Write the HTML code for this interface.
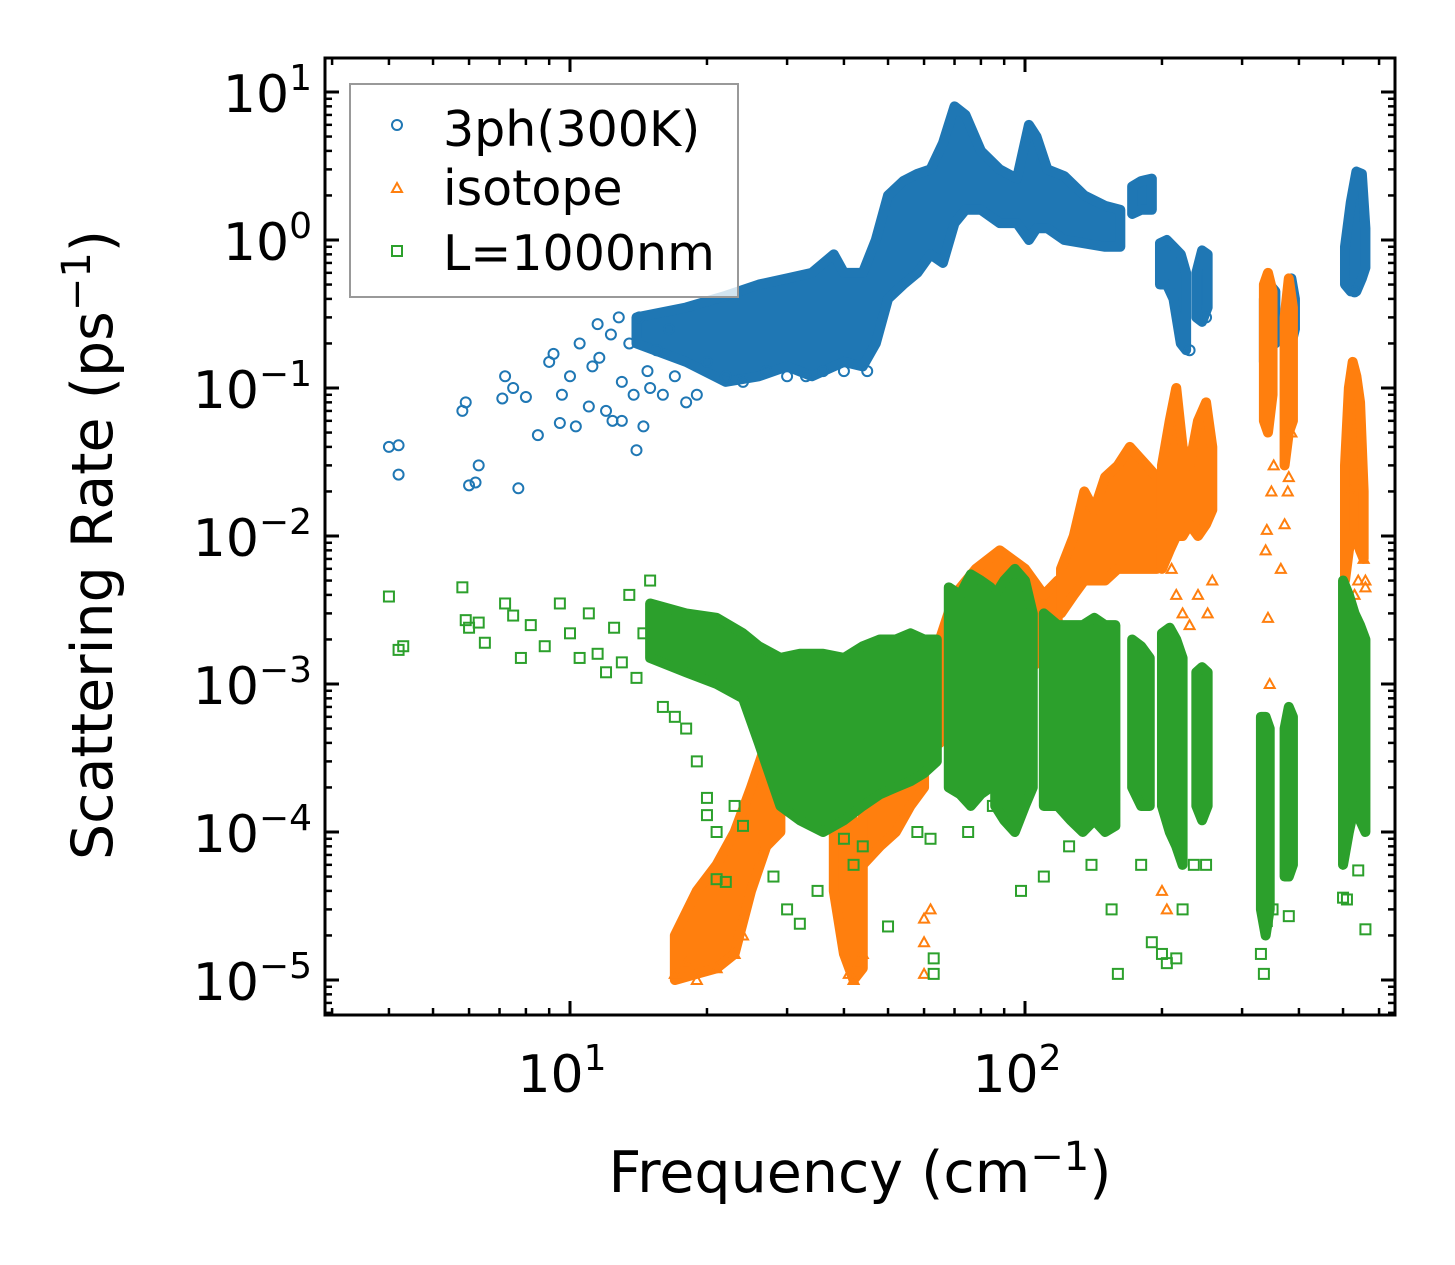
<!DOCTYPE html>
<html><head><meta charset="utf-8"><style>
html,body{margin:0;padding:0;background:#fff;}
svg{display:block;font-family:"DejaVu Sans","Liberation Sans",sans-serif;}
</style></head><body>
<svg id="chart" width="1455" height="1265" viewBox="0 0 1455 1265">
<g id="marks"></g>
<g id="axes"></g>
<g>
<rect x="350" y="84" width="388" height="213" fill="#fff" fill-opacity="0.8" stroke="#999" stroke-width="2"/>
<g><circle cx="397" cy="125" r="5" fill="none" stroke="#1f77b4" stroke-width="2"/><text x="443" y="146" font-size="49">3ph(300K)</text></g>
<g><polygon points="397,183 402,192 392,192" fill="none" stroke="#ff7f0e" stroke-width="2"/><text x="443" y="205" font-size="49">isotope</text></g>
<g><rect x="392" y="246" width="10" height="10" fill="none" stroke="#2ca02c" stroke-width="2"/><text x="443" y="270" font-size="49">L=1000nm</text></g>
</g>
<text x="860" y="1192" font-size="57" text-anchor="middle">Frequency (cm<tspan dy="-22" font-size="40">−1</tspan><tspan dy="22">)</tspan></text>
<text transform="translate(112,545) rotate(-90)" font-size="57" text-anchor="middle">Scattering Rate (ps<tspan dy="-22" font-size="40">−1</tspan><tspan dy="22">)</tspan></text>
</svg>
<script>
// ---- data ----
// blue: 3ph(300K)
const bluePtsF=[4.0,4.2,4.2,5.8,5.9,6.0,6.2,6.3,7.1,7.2,7.5,7.7,8.0,8.5,9.0,9.2,9.5,9.6,10,10.3,10.5,11,11.2,11.5,11.6,12,12.3,12.4,12.8,13,13,13.5,13.8,14,14.2,14.5,14.8,15,15.5,16,16.5,17,18,19,20,22,24,27,30,33,36,40,45,230,250,380,530];
const bluePtsR=[0.04,0.041,0.026,0.07,0.08,0.022,0.023,0.03,0.085,0.12,0.1,0.021,0.087,0.048,0.15,0.17,0.058,0.09,0.12,0.055,0.2,0.075,0.14,0.27,0.16,0.07,0.23,0.06,0.3,0.11,0.06,0.2,0.09,0.038,0.3,0.055,0.13,0.1,0.18,0.09,0.25,0.12,0.08,0.09,0.15,0.12,0.11,0.13,0.12,0.12,0.13,0.13,0.13,0.18,0.3,0.2,0.45];
const blueBlobF=[[14,18,22,26,30,34,38,40,44,47,50,54,58,62,66,70,74,80,88,96,102,106,112,122,135,150,162],[172,180,190],[198,205,212,220,226],[238,245,252],[335,345,355],[375,385,392],[505,520,535,550,560]];
const blueBlobHi=[[0.3,0.35,0.42,0.5,0.55,0.6,0.8,0.6,0.6,1.0,2.0,2.5,2.8,3,4.5,8,7,4,3,2.6,6,5,3,2.7,2.0,1.7,1.6],[2.3,2.5,2.6],[0.95,1.0,0.9,0.8,0.6],[0.6,0.85,0.8],[0.4,0.5,0.45],[0.35,0.55,0.4],[0.9,1.8,2.9,2.8,1.2]];
const blueBlobLo=[[0.2,0.15,0.11,0.12,0.14,0.12,0.14,0.15,0.14,0.2,0.4,0.5,0.6,0.8,0.7,1.3,1.6,1.6,1.3,1.3,1.0,1.2,1.2,1.0,0.95,0.9,0.9],[1.5,1.6,1.6],[0.5,0.5,0.4,0.2,0.18],[0.3,0.28,0.35],[0.15,0.2,0.2],[0.15,0.2,0.25],[0.5,0.45,0.45,0.55,0.65]];
// orange: isotope
const orPtsF=[17,18,19,21,23,24,41,42,43,44,60,60,60,62,200,205,210,215,222,230,240,252,258,338,340,342,345,348,352,365,372,378,380,385,520,530,540,555,560,560];
const orPtsR=[1.1e-5,1.3e-5,1e-5,1.2e-5,1.5e-5,2e-5,1.1e-5,1e-5,1.3e-5,1.5e-5,1.1e-5,1.8e-5,2.6e-5,3e-5,4e-5,3e-5,6e-3,4e-3,3e-3,2.5e-3,4e-3,3e-3,5e-3,8e-3,1.1e-2,2.8e-3,1e-3,2e-2,3e-2,6e-3,1.2e-2,2e-2,2.5e-2,5e-2,2e-2,4e-3,5e-3,7e-3,4.5e-3,5e-3];
const orBlobF=[[17,19,21,23,25,27,29],[38,40,42,44],[44,48,52,56,60],[65,70,78,88,100,110,118],[120,128,135,142,150,160,170,185,195],[200,208,215,222,230,240,250,258],[335,342,350],[372,380,388],[505,515,525,535,545,555]];
const orBlobHi=[[2e-5,4e-5,6e-5,1e-4,2e-4,4e-4,6e-4],[1.2e-4,1.5e-4,1.2e-4,6e-5],[2e-4,4e-4,6e-4,8e-4,1e-3],[2e-3,4e-3,6e-3,8e-3,6e-3,4e-3,5e-3],[6e-3,1e-2,2e-2,1.5e-2,2.5e-2,3e-2,4e-2,3e-2,2.5e-2],[3e-2,6e-2,1e-1,4e-2,3e-2,6e-2,8e-2,4e-2],[0.5,0.6,0.45],[0.3,0.55,0.35],[0.03,0.1,0.15,0.12,0.08,0.02]];
const orBlobLo=[[1e-5,1.1e-5,1.2e-5,1.5e-5,4e-5,8e-5,1e-4],[4e-5,1.5e-5,1e-5,1.2e-5],[6e-5,8e-5,1e-4,1.5e-4,2e-4],[4e-4,6e-4,8e-4,1e-3,1.2e-3,1.5e-3,2e-3],[3e-3,4e-3,5e-3,5e-3,5e-3,6e-3,6e-3,6e-3,6e-3],[6e-3,8e-3,1e-2,1e-2,1.2e-2,1e-2,1.2e-2,1.5e-2],[0.06,0.05,0.09],[0.03,0.05,0.06],[5e-3,8e-3,1e-2,1e-2,8e-3,7e-3]];
// green: L=1000nm
const grPtsF=[4.0,4.2,4.3,5.8,5.9,6.0,6.3,6.5,7.2,7.5,7.8,8.2,8.8,9.5,10,10.5,11,11.5,12,12.5,13,13.5,14,14.5,15,16,17,18,19,20,20,21,21,22,23,24,28,30,32,35,40,42,44,50,58,62,63,63,75,85,98,110,125,140,155,160,180,190,200,205,215,222,235,250,330,335,340,350,380,500,510,540,560];
const grPtsR=[3.9e-3,1.7e-3,1.8e-3,4.5e-3,2.7e-3,2.4e-3,2.6e-3,1.9e-3,3.5e-3,2.9e-3,1.5e-3,2.5e-3,1.8e-3,3.5e-3,2.2e-3,1.5e-3,3e-3,1.6e-3,1.2e-3,2.4e-3,1.4e-3,4e-3,1.1e-3,2.2e-3,5e-3,7e-4,6e-4,5e-4,3e-4,1.7e-4,1.3e-4,1e-4,4.8e-5,4.6e-5,1.5e-4,1.1e-4,5e-5,3e-5,2.4e-5,4e-5,9e-5,6e-5,8e-5,2.3e-5,1e-4,9e-5,1.4e-5,1.1e-5,1e-4,1.5e-4,4e-5,5e-5,8e-5,6e-5,3e-5,1.1e-5,6e-5,1.8e-5,1.5e-5,1.3e-5,1.4e-5,3e-5,6e-5,6e-5,1.5e-5,1.1e-5,2.5e-5,3e-5,2.7e-5,3.6e-5,3.5e-5,5.5e-5,2.2e-5];
const grBlobF=[[15,18,21,24,26,29,32,36,40,44,48,52,56,60,64],[68,72,76,80,84],[86,90,95,100,104],[110,118,126,134,142,150,158],[172,180,188],[200,208,215,222],[238,245,252],[330,338,345],[372,380,388],[500,515,530,545,560]];
const grBlobHi=[[3.5e-3,3e-3,2.8e-3,2.2e-3,1.8e-3,1.5e-3,1.6e-3,1.6e-3,1.5e-3,1.8e-3,2e-3,2e-3,2.2e-3,2e-3,2e-3],[4.5e-3,4e-3,5.5e-3,5e-3,4.5e-3],[4e-3,5e-3,6e-3,5e-3,3e-3],[3e-3,2.5e-3,2.5e-3,2.5e-3,2.8e-3,2.5e-3,2.5e-3],[2e-3,1.8e-3,1.5e-3],[2.2e-3,2.4e-3,2e-3,1.5e-3],[1.2e-3,1.3e-3,1.2e-3],[6e-4,6e-4,5e-4],[5e-4,7e-4,6e-4],[5e-3,4e-3,3e-3,2.5e-3,2e-3]];
const grBlobLo=[[1.5e-3,1.2e-3,1e-3,8e-4,4e-4,1.5e-4,1.2e-4,1e-4,1.2e-4,1.5e-4,1.8e-4,2e-4,2.2e-4,2.5e-4,3e-4],[2e-4,1.8e-4,1.5e-4,1.8e-4,2e-4],[1.5e-4,1.2e-4,1e-4,1.5e-4,2e-4],[1.5e-4,1.5e-4,1.2e-4,1e-4,1.2e-4,1e-4,1.1e-4],[2e-4,1.5e-4,1.5e-4],[1.5e-4,1e-4,8e-5,6e-5],[1.5e-4,1.2e-4,1.5e-4],[3e-5,2e-5,3e-5],[5e-5,5e-5,6e-5],[6e-5,1e-4,1.5e-4,1.2e-4,1e-4]];
const yTickExp=[1,0,-1,-2,-3,-4,-5];
const xTickExp=[1,2];

// ---- axes functions ----
const L=325,R=1395,T=58,B=1015;
const X=f=>570+455*(Math.log10(f)-1);
const Y=r=>240-148*Math.log10(r);
const NS="http://www.w3.org/2000/svg";
const marks=document.getElementById('marks'), axes=document.getElementById('axes');
function mk(tag,attrs,parent){const e=document.createElementNS(NS,tag);for(const k in attrs)e.setAttribute(k,attrs[k]);parent.appendChild(e);return e;}

const clip=mk('clipPath',{id:'pc'},marks);mk('rect',{x:L,y:T,width:R-L,height:B-T},clip);
marks.setAttribute('clip-path','url(#pc)');

function blobs(F,H,Lo,color,name){
  F.forEach((fs,i)=>{
    const pts=fs.map((f,j)=>X(f)+','+Y(H[i][j])).concat(fs.slice().reverse().map((f,j)=>X(f)+','+Y(Lo[i][fs.length-1-j])));
    const p=mk('polygon',{points:pts.join(' '),fill:color,stroke:color,'stroke-width':10,'stroke-linejoin':'round'},marks);
    
    
  });
}
function pts(F,Rr,color,shape,name){
  F.forEach((f,i)=>{
    const x=X(f),y=Y(Rr[i]);let e;
    if(shape==='c')e=mk('circle',{cx:x,cy:y,r:5,fill:'none',stroke:color,'stroke-width':2},marks);
    else if(shape==='t')e=mk('polygon',{points:`${x},${y-5} ${x+5},${y+4} ${x-5},${y+4}`,fill:'none',stroke:color,'stroke-width':2},marks);
    else e=mk('rect',{x:x-5,y:y-5,width:10,height:10,fill:'none',stroke:color,'stroke-width':2},marks);
    
    
  });
}
blobs(blueBlobF,blueBlobHi,blueBlobLo,'#1f77b4','3ph');
pts(bluePtsF,bluePtsR,'#1f77b4','c','3ph');
blobs(orBlobF,orBlobHi,orBlobLo,'#ff7f0e','isotope');
pts(orPtsF,orPtsR,'#ff7f0e','t','isotope');
blobs(grBlobF,grBlobHi,grBlobLo,'#2ca02c','boundary');
pts(grPtsF,grPtsR,'#2ca02c','s','boundary');

// frame
const fr=mk('rect',{x:L,y:T,width:R-L,height:B-T,fill:'none',stroke:'#000','stroke-width':3},axes);


function tick(x1,y1,x2,y2,w){mk('line',{x1,y1,x2,y2,stroke:'#000','stroke-width':w},axes);}
// x ticks
for(let d=0;d<=2;d++)for(let m=1;m<10;m++){
  const f=m*Math.pow(10,d);const x=X(f);if(x<L||x>R)continue;
  const len=m===1?14:7, w=m===1?3:2.5;
  tick(x,B,x,B-len,w);tick(x,T,x,T+len,w);
}
xTickExp.forEach(e=>{const t=mk('text',{x:X(Math.pow(10,e))-8,y:1092,'font-size':52,'text-anchor':'middle'},axes);t.innerHTML=`10<tspan dy="-22" font-size="36">${e}</tspan>`;
  
  });
// y ticks
for(let d=-6;d<=1;d++)for(let m=1;m<10;m++){
  const r=m*Math.pow(10,d);const y=Y(r);if(y<T||y>B)continue;
  const len=m===1?14:7, w=m===1?3:2.5;
  tick(L,y,L+len,y,w);tick(R,y,R-len,y,w);
}
yTickExp.forEach(e=>{const t=mk('text',{x:312,y:Y(Math.pow(10,e))+20,'font-size':52,'text-anchor':'end'},axes);
  t.innerHTML=`10<tspan dy="-22" font-size="36">${e<0?'−'+(-e):e}</tspan>`;
  
  });
</script>
</body></html>
